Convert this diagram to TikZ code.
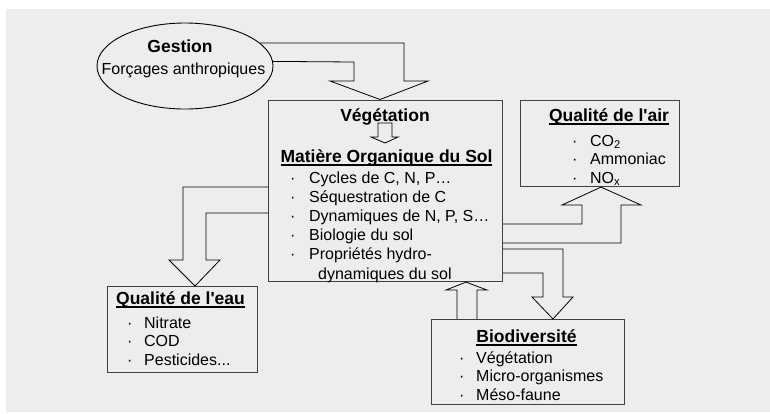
\documentclass[tikz,border=0pt]{standalone}
\usepackage{fontspec}
\setmainfont{Liberation Sans}
\usepackage{tikz}
\usetikzlibrary{shapes.geometric}

\newcommand{\itemfont}{\fontsize{16}{19}\selectfont}
\newcommand{\headfont}{\fontsize{17.5}{20}\selectfont\bfseries}
\newcommand{\pt}[1]{\makebox[#1][l]{\textperiodcentered}}
\newcommand{\headul}[1]{\setbox0\hbox{#1}\rlap{\rule[-3.5pt]{\wd0}{1.4pt}}\box0}

\tikzset{
  box/.style={draw=black!75, line width=1.1pt, anchor=north west, inner sep=0pt},
  bigarrow/.style={draw=black, line width=0.8pt, line join=miter},
  head/.style={anchor=base, font=\headfont, inner sep=0pt},
  entry/.style={anchor=base west, font=\itemfont, inner sep=0pt},
}

\begin{document}
\begin{tikzpicture}[x=1pt, y=-1pt]
\useasboundingbox (0,0) rectangle (770,413);
\fill[black!7] (6,9) rectangle (770,412);

% Gestion
\node[ellipse, draw=black, line width=0.9pt, minimum width=176pt, minimum height=86pt, inner sep=0pt] (gestion) at (185,66) {};
\node[head] (gestitle) at (180,52) {Gestion};
\node[anchor=base, font=\itemfont, inner sep=0pt] (gestsub) at (183.5,74) {Forçages anthropiques};

% boxes
\node[box, minimum width=234pt, minimum height=181.5pt] (mos) at (268,99.5) {};
\node[box, minimum width=159pt, minimum height=86.5pt] (air) at (520,99.5) {};
\node[box, minimum width=150pt, minimum height=86pt] (eau) at (107,286) {};
\node[box, minimum width=193pt, minimum height=85pt] (biodiv) at (431,319) {};

% sol
\node[head] (vege) at (385,121) {Végétation};
\node[head] (mostitle) at (386.5,162) {\headul{Matière Organique du Sol}};
\foreach \t [count=\i] in {{Cycles de C, N, P…}, {Séquestration de C}, {Dynamiques de N, P, S…}, {Biologie du sol}, {Propriétés hydro-}}
  \node[entry] (mositem\i) at (290,164+19*\i) {\pt{19pt}\t};
\node[entry] (mositem6) at (318,279) {dynamiques du sol};
\draw[bigarrow] (378,123) -- (378,137) -- (371,137) -- (385,143) -- (398,137) -- (392,137) -- (392,123) -- cycle;

% air
\node[head] (airtitle) at (609,121) {\headul{Qualité de l\textquotesingle air}};
\node[entry] (airitem1) at (572,146) {\pt{18pt}CO\textsubscript{2}};
\node[entry] (airitem2) at (572,164.5) {\pt{18pt}Ammoniac};
\node[entry] (airitem3) at (572,183) {\pt{18pt}NO\textsubscript{x}};

% eau
\node[head] (eautitle) at (180.5,304) {\headul{Qualité de l\textquotesingle eau}};
\node[entry] (eauitem1) at (127,328) {\pt{17pt}Nitrate};
\node[entry] (eauitem2) at (127,346.5) {\pt{17pt}COD};
\node[entry] (eauitem3) at (127,365) {\pt{17pt}Pesticides...};

% biodiversite
\node[head] (biotitle) at (526.5,342) {\headul{Biodiversité}};
\foreach \t [count=\i] in {Végétation, Micro-organismes, Méso-faune}
  \node[entry] (bioitem\i) at (459,344.5+18.5*\i) {\pt{17pt}\t};

% arrows
\draw[bigarrow] (gestion.17) -- (404,43) -- (404,81) -- (428,81) -- (380,0 |- mos.north) -- (330,81) -- (354,81) -- (354,62) -- (gestion.3);
\draw[bigarrow] (mos.east |- 0,243) -- (621,243) -- (621,205) -- (641,205) -- (601,0 |- air.south) -- (562,205) -- (582,205) -- (582,224) -- (mos.east |- 0,224);
\draw[bigarrow] (mos.west |- 0,187) -- (183,187) -- (183,260) -- (169,260) -- (195,0 |- eau.north) -- (220,260) -- (206,260) -- (206,213) -- (mos.west |- 0,213);
\draw[bigarrow] (mos.east |- 0,249) -- (563,249) -- (563,297) -- (573,297) -- (553,0 |- biodiv.north) -- (532,297) -- (543,297) -- (543,273) -- (mos.east |- 0,273);
\draw[bigarrow] (457,0 |- biodiv.north) -- (457,290) -- (446,290) -- (466,0 |- mos.south) -- (487,290) -- (477,290) -- (477,0 |- biodiv.north);
\end{tikzpicture}
\end{document}
